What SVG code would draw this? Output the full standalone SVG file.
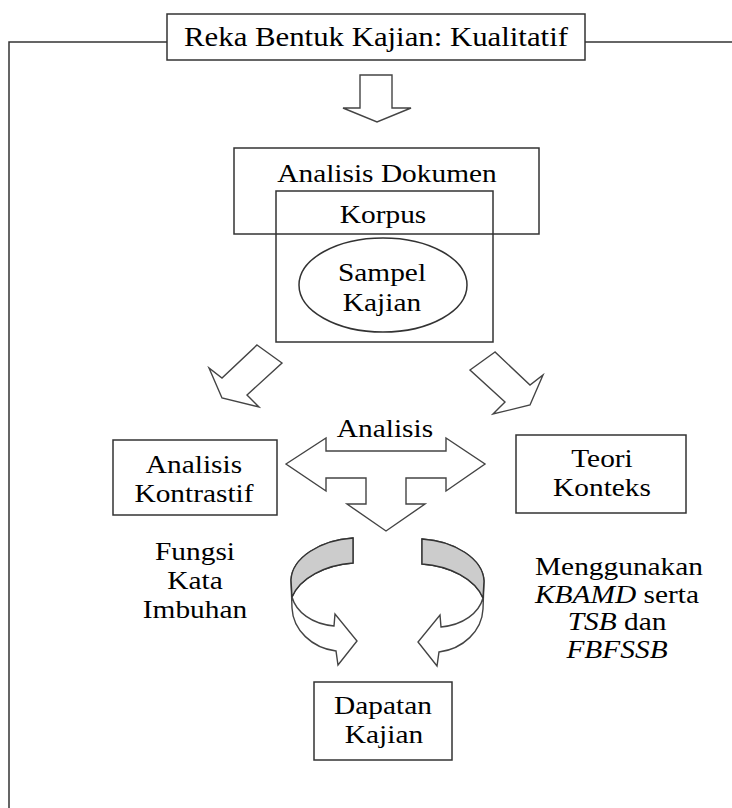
<svg xmlns="http://www.w3.org/2000/svg" width="732" height="808" viewBox="0 0 732 808">
<style>
.box{fill:#fff;stroke:#333;stroke-width:1.5}
.arr{fill:#fff;stroke:#444;stroke-width:1.4;stroke-linejoin:miter}
.gray{fill:#cccccc;stroke:#333;stroke-width:1.4}
.line{fill:none;stroke:#333;stroke-width:1.5}
text{font-family:"Liberation Serif","Times New Roman",serif;font-size:26px;fill:#000;text-anchor:middle}
.it{font-style:italic}
</style>
<rect width="732" height="808" fill="#fff"/>
<g id="connectors">
  <polyline class="line" points="167,42 9,42 9,808"/>
  <line class="line" x1="585" y1="42" x2="732" y2="42"/>
  <polygon id="arrow-down-top" class="arr" points="360,75 392,75 392,108 411,108 377,122 343,108 360,108"/>
  <polygon id="arrow-left-diag" class="arr" points="257,345 282,363 247,395 259,407 222,398 209,368 222,378"/>
  <polygon id="arrow-right-diag" class="arr" points="495,352 470,370 505,402 493,414 530,405 543,375 530,385"/>
  <polygon id="arrow-threeway" class="arr" points="286,464 326,438 326,451 446,451 446,438 485,464 446,491 446,478 406,478 406,504 425,504 386,531 347,504 366,504 366,478 326,478 326,491"/>
  <g id="curved-left">
    <path class="arr" d="M353,538 C320,540 292,558 291,580 L292,608 C293,630 312,648 336,651 L338,665 L357,641 L335,614 L334,626 C312,624 296,612 292,597 C300,578 325,565 353,563 Z"/>
    <path class="gray" d="M353,538 C320,540 292,558 291,580 L292,597 C300,578 325,565 353,563 Z"/>
  </g>
  <g id="curved-right" transform="translate(775,1) scale(-1,1)">
    <path class="arr" d="M353,538 C320,540 292,558 291,580 L292,608 C293,630 312,648 336,651 L338,665 L357,641 L335,614 L334,626 C312,624 296,612 292,597 C300,578 325,565 353,563 Z"/>
    <path class="gray" d="M353,538 C320,540 292,558 291,580 L292,597 C300,578 325,565 353,563 Z"/>
  </g>
</g>
<g id="title">
  <rect class="box" x="167" y="14" width="418" height="46"/>
  <text transform="translate(376,46) scale(1.1,1)" style="font-size:28px">Reka Bentuk Kajian: Kualitatif</text>
</g>
<g id="analisis-dokumen">
  <rect class="box" x="234" y="148" width="305" height="86" style="fill:none"/>
  <text transform="translate(387,182) scale(1.13,1)">Analisis Dokumen</text>
</g>
<g id="korpus">
  <rect class="box" x="276" y="191" width="217" height="151" style="fill:none"/>
  <text transform="translate(383,223) scale(1.13,1)">Korpus</text>
</g>
<g id="sampel-kajian">
  <ellipse class="box" cx="383" cy="285" rx="84" ry="47"/>
  <text transform="translate(382,281) scale(1.13,1)">Sampel</text>
  <text transform="translate(382,311) scale(1.13,1)">Kajian</text>
</g>
<g id="label-analisis">
  <text transform="translate(385,437) scale(1.13,1)">Analisis</text>
</g>
<g id="analisis-kontrastif">
  <rect class="box" x="113" y="440" width="164" height="75"/>
  <text transform="translate(194,473) scale(1.13,1)">Analisis</text>
  <text transform="translate(194,502) scale(1.13,1)">Kontrastif</text>
</g>
<g id="teori-konteks">
  <rect class="box" x="516" y="435" width="170" height="78"/>
  <text transform="translate(602,467) scale(1.13,1)">Teori</text>
  <text transform="translate(602,496) scale(1.13,1)">Konteks</text>
</g>
<g id="label-fungsi">
  <text transform="translate(195,560) scale(1.13,1)">Fungsi</text>
  <text transform="translate(195,589) scale(1.13,1)">Kata</text>
  <text transform="translate(195,618) scale(1.13,1)">Imbuhan</text>
</g>
<g id="label-menggunakan">
  <text transform="translate(619,575) scale(1.13,1)">Menggunakan</text>
  <text transform="translate(617,603) scale(1.13,1)"><tspan class="it">KBAMD</tspan> serta</text>
  <text transform="translate(617,630) scale(1.13,1)"><tspan class="it">TSB</tspan> dan</text>
  <text transform="translate(617,658) scale(1.13,1)" class="it">FBFSSB</text>
</g>
<g id="dapatan-kajian">
  <rect class="box" x="314" y="682" width="138" height="78"/>
  <text transform="translate(383,714) scale(1.13,1)">Dapatan</text>
  <text transform="translate(384,743) scale(1.13,1)">Kajian</text>
</g>
</svg>
